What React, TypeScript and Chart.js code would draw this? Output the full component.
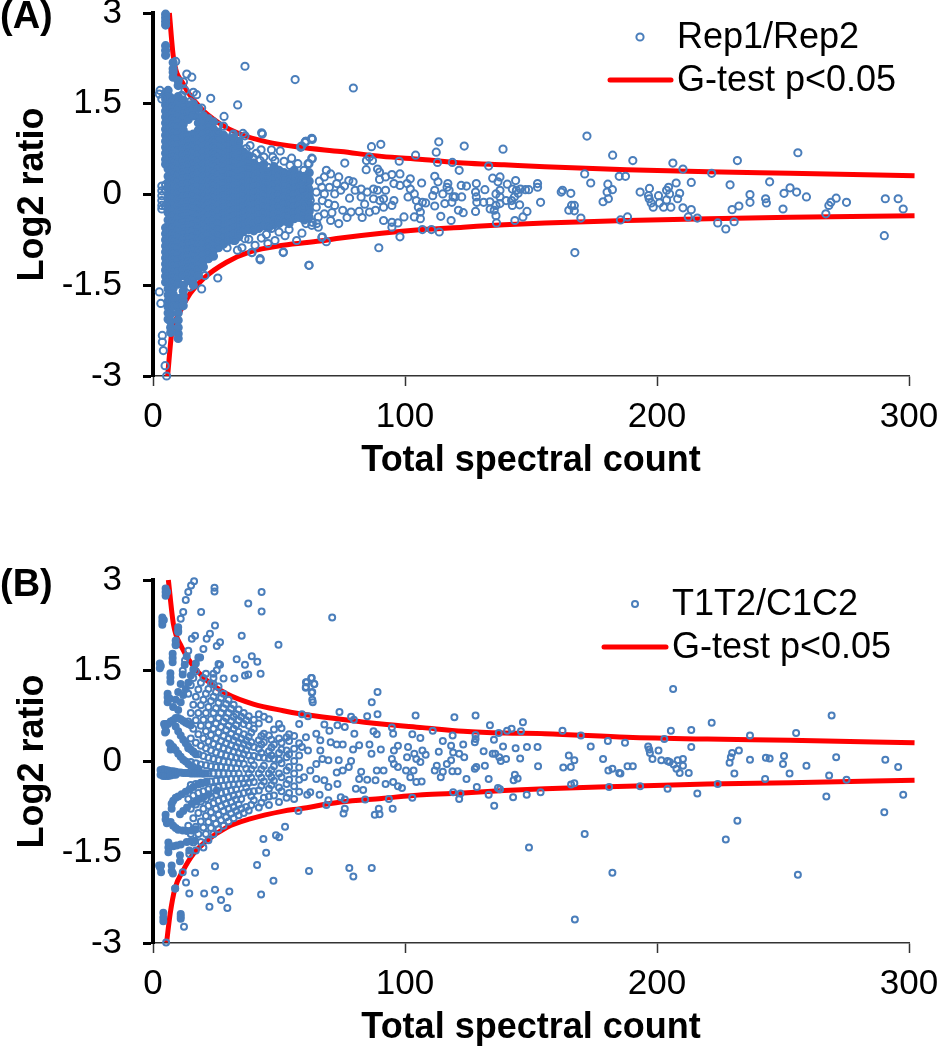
import React, { useEffect, useRef } from "react";
import { Chart, registerables } from "chart.js";

Chart.register(...registerables);

type P = [number, number];
const FONT = '"Liberation Sans", Arial, sans-serif';
const BLUE = "#4a7ebb";
const RED = "#ff0000";

const xTicks = [0, 100, 200, 300];
const yTicks = [-3, -1.5, 0, 1.5, 3];

// ---------- Panel A ----------
const repUpper: P[] = [[6.5,3],[8.1,2.27],[12,1.83],[18.7,1.44],[26.6,1.17],[34.5,1],[45.1,.87],[58.3,.78],[74.5,.71],[90.7,.63],[106.9,.58],[123.1,.52],[139.3,.49],[155.5,.46],[188,.41],[220.4,.375],[252.8,.35],[302.2,.31]];
const repLower: P[] = [[5.8,-3],[7.4,-2.3],[10,-2],[14.7,-1.64],[20,-1.39],[29.2,-1.12],[38.5,-.95],[51.7,-.84],[66.3,-.77],[74.5,-.72],[90.7,-.64],[106.9,-.58],[123.1,-.54],[139.3,-.5],[155.5,-.47],[188,-.43],[220.4,-.4],[252.8,-.375],[302.2,-.35]];

const repOutliers: P[] = [[36.5,2.12],[56.4,1.9],[22.9,1.59],[33.6,1.48],[28.2,1.29],[13.4,1.99],[15.4,1.94],[9,2.2],[12.1,1.86],[43.1,1.02],[36.5,.97],[59,.8],[60.7,.88],[63.1,.92],[26,1.14],[28,1.13],[25.5,1.03],[31.9,1],[19.3,1.43],[16,1.69],[17.3,1.65],[14.7,1.53],[11.4,1.64],[12.7,1.72],[61.9,-1.17],[42.5,-1.08],[51.7,-.95],[39.2,-.96],[25.7,-1.38],[20.6,-1.34],[19.3,-1.56],[14.7,-1.53],[2.5,1.66],[2.8,1.72],[3.5,1.58],[2.5,-1.61],[3.1,-1.8],[3.7,-2.33],[3.7,-2.44],[4.1,-2.58],[4.8,-2.83],[5.4,-3],[3.5,.14],[3.5,.06],[3.5,-.02],[3.5,-.1],[3.5,-.18],[3.5,-.24],[5,.16],[5,.08],[5,-.2],[79.5,1.76],[43.4,1],[42.9,.74],[47,.74],[50.5,.72],[60.3,.86],[63,.93],[58.7,.79],[39.6,.61],[42.5,.56],[48.4,.56],[45.6,.45],[54.4,.48],[57.5,.51],[63,.6],[61.5,.51],[38.5,.81],[35.7,1.01],[31.7,.98],[52.4,-.68],[51.7,-.96],[42.5,-1.06],[39.3,-.96],[47,-.56],[45.6,-.81],[48.4,-.76],[59.1,-.64],[57,-.76],[67,-.71],[63,-.51],[65,-.48],[35.3,-.88],[40.5,-.84],[32.5,-.76],[29.4,-.88],[36.5,-.73],[34,.86],[37,.76],[41,.68],[44,.62],[47.5,.62],[52,.55],[55,.6],[33.5,-.92],[38,-.74],[43,-.72],[45,-.66],[50,-.62],[54,-.58]];

const repTail: P[] = [[63.2,.91],[60.6,.88],[58.6,.78],[86.7,.79],[90.4,.83],[104.2,.65],[97.7,.55],[85.9,.62],[84.7,.56],[87.1,.56],[113.4,.87],[112.4,.7],[112.9,.53],[118.8,.53],[123.5,.8],[121.5,.4],[133.2,.47],[138.9,.75],[76.1,.52],[84.6,.41],[89.1,.42],[89.9,.37],[171.3,.34],[172.2,.965],[173.7,.19],[182.4,.65],[190.4,.56],[185,.3],[187.5,.3],[180.5,.17],[182.3,.08],[180.2,.04],[180.7,-.07],[178.6,-.12],[206.3,.52],[210.3,.42],[221.7,.35],[231.9,.56],[255.9,.69],[213.6,.2],[207.6,.19],[204.6,.12],[244.7,.21],[229,.16],[252.8,.11],[250.4,.02],[255.4,.04],[259.3,-.04],[236.9,0],[236.9,-.13],[232.5,-.19],[229.8,-.25],[243.1,-.07],[243.4,-.14],[250,-.24],[271.1,-.06],[269,-.13],[268.2,-.18],[275.2,-.13],[267,-.32],[290.6,-.07],[295.7,-.07],[297.7,-.24],[290.2,-.68],[230.6,-.45],[227.3,-.57],[224.1,-.47],[216,-.39],[212.4,-.37],[213.6,-.25],[210.3,-.22],[205.5,-.21],[202.6,-.21],[201,-.14],[198.5,-.21],[197.7,-.14],[196.9,-.07],[196.6,-.02],[197,.1],[193.3,.04],[200.6,-.02],[203.8,-.09],[208.2,-.07],[209,.02],[205,.01],[203.8,.07],[188.3,-.37],[185.5,-.42],[169.8,-.39],[167.4,-.96],[167.2,-.18],[165,-.26],[167.2,-.27],[166.1,-.18],[162.5,.07],[165.8,.02],[162,.04],[153.8,-.13],[152.6,.18],[152.6,.12],[149.1,.08],[147.8,.08],[145.8,.09],[144.2,.07],[144.9,.02],[143.9,.23],[140.6,.17],[148.4,-.28],[146.8,-.37],[143.6,-.43],[136.3,-.47],[136.1,-.35],[135.4,-.26],[133.8,-.24],[145.5,-.17],[142.6,-.18],[142.3,-.1],[140.1,-.1],[137.7,-.15],[136.1,-.18],[133.7,-.12],[131.2,-.13],[128.5,-.13],[128,-.28],[128.3,-.04],[128,.04],[128.3,.18],[131.7,.08],[124.4,.14],[122.3,.15],[122.5,-.04],[119.9,-.04],[118.6,-.13],[123.1,-.3],[121.2,-.26],[118.3,-.43],[114.2,-.36],[115.8,-.15],[111.8,-.19],[115,.01],[137.7,.29],[136.9,.21],[134.8,.27],[137.7,.07],[136.1,.01],[137.7,-.04],[142.6,.09],[143.4,-.04],[111.8,.3],[113.1,.21],[111.8,.07],[111,-.02],[117,.18],[117.5,.07],[119.1,-.04],[116.7,.12],[106.6,.19],[102.1,.26],[100.8,.18],[102.1,.09],[103.7,.01],[101.2,-.04],[104.5,-.1],[106.9,-.13],[108.2,-.14],[105.3,-.21],[106.1,-.29],[103.7,-.37],[106.1,-.4],[99.6,-.37],[97.2,-.47],[94.8,-.46],[94.8,-.54],[91.5,-.43],[98,-.7],[106.9,-.58],[110.5,-.58],[113.6,-.62],[89.6,-.88],[68.8,-.78],[67.2,-.7],[61.9,-1.17],[98,.34],[94.8,.33],[92.3,.29],[89.9,.25],[95.6,.18],[98,.15],[92.3,.07],[89.1,.07],[87.5,.09],[85,.04],[82.6,.09],[79.4,.21],[77.7,.23],[80.2,.07],[82.6,-.04],[87.5,-.07],[91.5,-.07],[95.6,-.1],[94.8,-.18],[91.5,-.21],[88.3,-.26],[85.9,-.29],[81.8,-.28],[78.6,-.29],[75.3,-.26],[73.7,-.48],[70.5,-.43],[68,-.32],[65.6,-.37],[63.2,-.46],[65.6,-.54],[60.7,-.48],[68.8,.4],[68,.29],[70.5,.34],[73.7,.29],[72.9,.18],[74.5,.07],[72.1,.01],[68,.01],[64.8,.04],[67.2,-.1],[69.6,-.15],[72.1,-.18],[64.8,-.21],[62.4,-.1],[60.7,-.02],[61.5,.12],[63.2,.59],[61.9,.51],[59.9,.4],[59.1,.23],[59.9,.07],[59.6,-.21],[66,.22],[70,.12],[76,.14],[78,-.06],[84,-.16],[90,-.1],[71,-.3],[77,-.38],[83,-.38],[67,.12]];

const repCoreX = [5, 6, 7, 8, 10, 12, 14, 16, 18, 20, 22, 24, 26, 28, 30, 32, 34, 36, 38, 40, 42, 44, 46, 48, 50, 52, 54, 56, 58, 60, 62];
const repCoreY = [
  [1.68,1.58,1.48,1.38,1.28,1.18,1.08,.98,.88,.78,.68,.58,.5,-.55,-.65,-.75,-.85,-.95,-1.05,-1.15,-1.25,-1.35,-1.45,2.92,2.98,2.86,2.8,2.46,2.38,2.3],
  [1.72,1.62,1.52,1.42,1.32,1.22,1.12,1.02,.92,.82,.72,.62,.52,.42,.3,.2,.1,0,-.1,-.2,-.3,-.42,-.52,-.62,-.74,-.84,-.94,-1.04,-1.14,-1.26,-1.36,-1.46,-1.56,-1.66,-1.76,-1.86,-1.96,-2.06],
  [1.6,1.5,1.4,1.3,1.2,1.1,1,.9,.8,.7,.6,.5,.4,.3,.2,.1,0,-.1,-.2,-.3,-.4,-.5,-.6,-.7,-.8,-.9,-1,-1.1,-1.2,-1.3,-1.4,-1.52,-1.62,-1.74,-1.86,-1.98,-2.1,-2.2,-2.28],
  [2.08,2.18,2.02,1.94,1.55,1.45,1.35,1.25,1.15,1.05,.95,.85,.75,.65,.55,.45,.35,.25,.15,.05,-.05,-.15,-.25,-.35,-.45,-.55,-.65,-.75,-.85,-.95,-1.05,-1.15,-1.25,-1.35,-1.45,-1.55,-1.65,-1.75,-1.85],
  [1.88,1.8,1.62,1.52,1.42,1.32,1.22,1.12,1.02,.92,.82,.72,.62,.52,.42,.32,.22,.12,.02,-.08,-.18,-.28,-.38,-.48,-.58,-.68,-.78,-.88,-.98,-1.08,-1.18,-1.28,-1.38,-1.48,-1.72,-1.84,-1.96,-2.08,-2.2,-2.3,-2.38],
  [1.56,1.46,1.36,1.26,1.16,1.06,.96,.86,.76,.66,.56,.46,.36,.26,.16,.06,-.04,-.14,-.24,-.34,-.44,-.54,-.64,-.74,-.84,-.94,-1.04,-1.14,-1.24,-1.34,-1.5,-1.6,-1.68,-1.76,-1.84],
  [1.48,1.36,1.24,.98,.88,.78,.68,.58,.48,.38,.28,.18,.08,-.02,-.12,-.22,-.32,-.42,-.52,-.62,-.72,-.82,-.92,-1.02,-1.12,-1.22,-1.32,-1.42],
  [1.5,1.4,1.3,1.0,.9,.8,.7,.6,.5,.4,.3,.2,.1,0,-.1,-.2,-.3,-.4,-.5,-.6,-.7,-.8,-.9,-1,-1.1,-1.2,-1.3,-1.4,-1.5],
  [1.42,1.28,1.18,1.06,.96,.86,.76,.66,.56,.46,.36,.26,.16,.06,-.04,-.14,-.24,-.34,-.44,-.54,-.64,-.74,-.84,-.94,-1.04,-1.14,-1.24,-1.34],
  [1.3,1.2,1.1,1,.9,.8,.7,.6,.5,.4,.3,.2,.1,0,-.1,-.2,-.3,-.4,-.5,-.6,-.7,-.8,-.9,-1,-1.1,-1.2],
  [1.25,1.14,1.04,.94,.84,.74,.64,.54,.44,.34,.24,.14,.04,-.06,-.16,-.26,-.36,-.46,-.56,-.66,-.76,-.86,-.96,-1.06],
  [1.2,1.08,.98,.88,.78,.68,.58,.48,.38,.28,.18,.08,-.02,-.12,-.22,-.32,-.42,-.52,-.62,-.72,-.82,-.92,-1.02],
  [1.02,.92,.82,.72,.62,.52,.42,.32,.22,.12,.02,-.08,-.18,-.28,-.38,-.48,-.58,-.68,-.78,-.88],
  [.98,.88,.78,.68,.58,.48,.38,.28,.18,.08,-.02,-.12,-.22,-.32,-.42,-.52,-.62,-.72,-.82],
  [.92,.82,.72,.62,.52,.42,.32,.22,.12,.02,-.08,-.18,-.28,-.38,-.48,-.58,-.68,-.76],
  [.94,.84,.74,.64,.54,.44,.34,.24,.14,.04,-.06,-.16,-.26,-.36,-.46,-.56,-.66,-.76],
  [.88,.78,.68,.58,.48,.38,.28,.18,.08,-.02,-.12,-.22,-.32,-.42,-.52,-.62,-.7],
  [.7,.6,.5,.4,.3,.2,.1,0,-.1,-.2,-.3,-.4,-.5,-.6],
  [.64,.54,.44,.34,.24,.14,.04,-.06,-.16,-.26,-.36,-.46,-.58],
  [.52,.42,.32,.22,.12,.02,-.08,-.18,-.28,-.38,-.48,-.6],
  [.46,.36,.26,.16,.06,-.04,-.14,-.24,-.34,-.44,-.56],
  [.5,.4,.3,.2,.1,0,-.1,-.2,-.3,-.4,-.52],
  [.38,.28,.18,.08,-.02,-.12,-.22,-.32,-.42,-.54],
  [.46,.36,.26,.16,.06,-.04,-.14,-.24,-.34,-.44,-.5],
  [.4,.3,.2,.1,0,-.1,-.2,-.3,-.4,-.48],
  [.36,.26,.16,.06,-.04,-.14,-.24,-.34,-.44],
  [.34,.24,.14,.04,-.06,-.16,-.26,-.36,-.48],
  [.4,.3,.2,.1,0,-.1,-.2,-.3,-.4],
  [.32,.22,.12,.02,-.08,-.18,-.28,-.38],
  [.3,.16,.06,-.04,-.14,-.24,-.34,-.42],
  [.36,.22,.08,-.04,-.16,-.28,-.38],
];

// ---------- Panel B ----------
const treatUpper: P[] = [[6.1,3],[8.1,2.27],[11.4,1.89],[15.4,1.61],[21.3,1.34],[29.2,1.12],[39.8,.95],[51.7,.84],[58.3,.79],[74.5,.7],[90.7,.62],[106.9,.56],[123.1,.5],[139.3,.47],[155.5,.46],[188,.4],[220,.37],[252.8,.35],[302.2,.31]];
const treatLower: P[] = [[5.4,-2.99],[6.8,-2.52],[8.7,-2.1],[12,-1.8],[16,-1.53],[21.3,-1.31],[29.2,-1.09],[38.5,-.95],[51.7,-.82],[58.3,-.78],[74.5,-.67],[90.7,-.61],[106.9,-.55],[123.1,-.52],[139.3,-.48],[155.5,-.45],[188,-.41],[220,-.37],[252.8,-.35],[302.2,-.31]];

const treatOutliers: P[] = [[43.1,2.8],[43.1,2.48],[37.8,2.61],[24.4,2.87],[24.4,2.81],[19.1,2.47],[24.6,2.25],[35.2,2.08],[49.8,1.93],[33.2,1.69],[36.5,1.6],[39.2,1.74],[41.4,1.65],[36.5,1.42],[37.8,1.44],[42.7,1.45],[63,1.38],[61,1.31],[64,1.28],[60.7,1.23],[63,1.14],[63.4,.98],[26,1.61],[26.6,1.6],[25.3,1.51],[24,1.45],[32.3,1.37],[28,1.37],[24,1.28],[26.6,1.97],[25.3,1.91],[22.6,2.11],[21.3,2.03],[20,1.86],[18.7,1.72],[16.7,2.08],[15.4,2.03],[14,1.83],[12.7,1.67],[11.8,1.5],[16.3,2.98],[15.1,2.91],[14,2.8],[13,2.67],[12,2.47],[11,2.36],[10,2.16],[9,1.94],[24.6,-1.73],[16.7,-1.84],[13.1,-2],[14.4,-2.18],[20.3,-2.18],[24.6,-2.12],[30.3,-2.15],[27,-2.29],[22.4,-2.4],[29.5,-2.42],[42.9,-2.2],[47.8,-1.97],[41.3,-1.71],[61.9,-1.81],[44.9,-1.51],[43.8,-1.28],[48.8,-1.22],[50.1,-1.25],[52.4,-1.08],[57.7,-.82],[11,-2.56],[12.3,-2.73],[5.2,-2.99],[8.8,-2.1],[11.8,-1.83],[14.4,-1.53],[71.1,2.38],[62.8,1.38],[60.7,1.31],[64,1.28],[60.6,1.22],[63.2,1.15],[63.2,1.02],[89.1,1.15],[86.8,.98],[74,.82],[78.6,.74],[79.7,.69],[85,.75],[89.1,.78],[104.2,.76],[119.6,.73],[128,.76],[133.7,.6],[146.8,.65],[142.3,.54],[140.5,.51],[146,.5],[137.2,.47],[77.9,-1.76],[79.5,-1.9],[86.8,-1.76],[231.9,-.98],[227.3,-1.29],[255.9,-1.87],[182.3,-1.84],[171.3,-1.2],[167.4,-2.61],[149.2,-1.42],[206.4,1.2],[269.3,.76]];

const treatTail: P[] = [[128,.44],[128,.37],[127.7,.32],[118.9,.43],[111,.51],[115,.34],[102.9,.45],[106.1,.39],[94.8,.56],[95.3,.46],[87.5,.5],[88.8,.45],[79.9,.46],[76.1,.57],[73.2,.6],[70,.51],[68,.61],[61.5,.75],[59.1,.78],[162.5,.51],[169.8,.43],[173.7,.25],[180.5,.34],[187.3,.31],[202.9,.37],[205.5,.51],[213.6,.52],[221.7,.64],[236.9,.43],[255.2,.47],[213.6,.24],[196.5,.25],[196.9,.2],[197.2,.14],[200.6,.18],[198.2,.04],[201.7,.02],[204.2,.01],[205,-.01],[208.2,.02],[210.3,.04],[206.6,-.05],[210.3,-.07],[207.7,-.12],[209,-.19],[212.6,-.19],[232.5,.18],[229.8,.14],[229.3,.07],[228.8,-.02],[230.7,-.2],[236.9,.03],[243.2,.06],[244.7,.05],[250.4,.09],[250,-.04],[252.6,-.2],[259.3,-.07],[271.1,.07],[268.3,-.23],[275.2,-.3],[290.6,.03],[295.7,-.09],[297.7,-.55],[290.2,-.84],[267.2,-.58],[242.9,-.29],[224.1,-.37],[216,-.53],[204.2,-.45],[193.3,-.41],[181,-.42],[165.9,-.38],[167.2,-.36],[178.6,.04],[180.7,-.15],[182.3,-.12],[185,-.19],[185.5,-.2],[188.3,-.08],[190.4,-.08],[165,.1],[167.2,.02],[162.8,-.1],[165.8,-.09],[152.8,-.08],[152.6,.24],[148.4,.24],[143.9,.22],[138.9,.25],[145.7,.05],[140.1,.04],[138,.01],[137.4,.07],[135.8,.13],[134.8,.13],[131.2,.17],[135.3,.36],[143.6,-.22],[144.7,-.28],[143.1,-.31],[153.8,-.51],[148.3,-.55],[142.9,-.59],[136.9,-.44],[137.7,-.46],[135.4,-.73],[133.2,-.55],[133.2,-.29],[128.5,-.42],[124.4,-.29],[131.7,-.07],[128.3,-.09],[127.7,-.12],[120.9,-.16],[118.8,-.16],[119.1,-.51],[122,-.53],[121.5,-.62],[114.2,-.26],[115,-.17],[111.8,-.15],[112.6,-.07],[116.6,-.04],[118.3,.02],[119.1,.15],[118.3,.26],[123.1,.28],[123.5,.07],[121.5,.13],[113.4,.16],[108.2,.11],[106.9,.18],[106.1,-.01],[104.5,.04],[103.7,.13],[100.8,.07],[101.2,.24],[97.2,.26],[95.6,.18],[94.8,.04],[95.6,-.04],[97.2,-.09],[100.4,-.15],[103.4,-.15],[102.1,-.26],[104.5,-.34],[106.6,-.33],[98.8,-.44],[97.2,-.41],[95.3,-.34],[92.3,-.37],[91.5,-.15],[88.8,-.15],[88.3,-.31],[85,-.3],[82.6,-.17],[81.8,-.29],[80.5,-.45],[83.4,-.47],[84.2,-.63],[76.1,-.63],[74.5,-.59],[68.8,-.72],[69.6,-.64],[76.1,-.78],[75.6,-.86],[89.6,-.78],[89.9,-.87],[88,-.88],[95.1,-.78],[93.6,-.62],[102.9,-.6],[90.4,.2],[85.9,.28],[86.7,.13],[81.8,.27],[79.4,.2],[75.3,.28],[72.9,.28],[73.7,.02],[78.6,.01],[77.7,-.09],[75.3,-.15],[72.9,-.18],[69.6,.02],[67.2,.04],[64.8,-.04],[62.4,-.15],[59.9,-.26],[64.8,-.29],[68,-.31],[69.6,-.42],[62.4,-.51],[66.1,-.55],[61.2,-.55],[73.2,-.37],[66.4,.35],[70.5,.32],[60.7,.4],[59.1,.24],[66.4,.18],[61.5,.18],[64.8,.46]];

const treatMeshX = [14,15,16,17,18,19,20,21,22,23,24,25,26,27,28,29,30,31,32,33,34,35,36,37,38,39,40,42,43,44,46,47,48,50,51,53,54,56,58];
const treatMeshY = [
  [.22,.66,1.12,-.62,-1.06],
  [-.01,.38,.8,1.26,-.39,-.78,-1.2],
  [.16,.54,.94,1.38,-.56,-.94,-1.34],
  [-.03,.31,.68,1.07,1.49,-.37,-.71,-1.08,-1.47],
  [.12,.45,.8,1.19,-.52,-.85,-1.2],
  [-.05,.26,.59,.93,1.3,-.35,-.66,-.99,-1.33],
  [-.2,.09,.38,.69,1.02,1.38,-.49,-.78,-1.09,-1.42],
  [-.06,.22,.5,.8,1.12,1.45,-.34,-.62,-.9,-1.2],
  [-.2,.06,.33,.6,.9,1.2,-.46,-.73,-1,-1.3],
  [-.08,.18,.44,.7,1,1.29,-.33,-.58,-.84,-1.1],
  [-.2,.04,.29,.54,.8,1.07,1.38,-.44,-.69,-.94,-1.2],
  [-.09,.15,.38,.63,.88,1.15,-.32,-.55,-.78,-1.03],
  [-.2,.02,.25,.48,.72,.97,1.24,-.42,-.65,-.88,-1.12],
  [-.09,.12,.34,.57,.8,1.05,-.31,-.52,-.74,-.97],
  [-.2,0,.22,.42,.66,.88,1.12,-.4,-.62,-.82,-1.06],
  [-.1,.1,.3,.52,.72,.95,-.3,-.5,-.7,-.92],
  [-.2,-.01,.19,.38,.59,.8,1.02,-.39,-.59,-.78,-.99],
  [-.11,.08,.27,.46,.67,.87,-.29,-.48,-.67,-.86],
  [-.2,-.02,.16,.35,.54,.74,.94,-.38,-.56,-.75,-.94],
  [-.11,.06,.24,.41,.6,.78,-.29,-.46,-.63,-.82],
  [-.2,-.03,.14,.31,.49,.68,.86,-.37,-.54,-.71,-.89],
  [.05,.22,.38,.74,-.28,-.62,-.78],
  [-.04,.12,.29,.45,.62,.8,-.36,-.52,-.85],
  [-.12,.19,.35,.68,-.28,-.43,-.75],
  [-.2,.1,.26,.41,.59,.75,-.35,-.5,-.81],
  [-.13,.02,.32,.48,-.27,-.57,-.72],
  [-.06,.09,.24,.54,.69,-.34,-.49,-.64],
  [-.2,.07,.21,.35,.63,.78,-.48,-.76],
  [-.13,.14,.28,.42,-.27,-.4,-.68],
  [-.07,.06,.32,.46,.74,-.33,-.6],
  [-.2,.05,.17,.43,.7,-.45,-.58,-.72],
  [-.14,.1,.23,.36,-.26,-.39],
  [-.08,.04,.28,.53,-.32,-.56],
  [-.2,.03,.14,.38,.62,-.43,-.67],
  [-.03,.2,.31,.55,-.26,-.49],
  [-.15,.07,.18,.4,-.37,-.6],
  [-.09,.12,.34,.45,-.3,-.52],
  [-.2,.01,.21,.42,-.41,-.62],
  [-.1,.1,.3,.62,-.3,-.5],
];

const treatArcs: P[] = [
  [2.7,1.62],[2.7,1.54],[3.1,1.58],[3.7,2.38],[3.7,2.32],[3.7,2.26],[4.3,2.34],[5,2.86],[5,2.8],[5,2.74],[5.6,2.8],
  [5.8,1.12],[5.8,1.06],[5.8,.98],[6.6,1.04],[6.9,1.46],[6.9,1.39],[6.9,1.32],[7.8,1.78],[7.8,1.71],[7.8,1.64],[9,2],[9,1.92],[10,2.22],[10,2.14],
  [8,.9],[9,1.02],[10,1.15],[11,1.28],[11.8,1.44],[12.6,1.6],[13.4,1.74],[10,.85],[11,.98],[12,1.1],[13,1.2],[14,1.3],[15,1.42],[16,1.52],[17,1.62],[18,1.72],
  [4.4,.62],[4.8,.58],[4.8,.48],[5.2,.62],[5.2,.5],[6,.62],[7,.66],[8,.68],[9,.72],[10,.72],[11,.7],[12,.67],[13,.64],[14,.62],[15,.6],
  [6.5,.3],[7,.28],[7,.2],[8,.24],[9,.19],[10,.13],[11,.08],[12,.03],[13,0],[14,-.04],[15,-.07],[16,-.09],[18,-.12],
  [9,.58],[10,.5],[11,.43],[12,.36],[13,.3],[14,.25],[15,.2],[16,.16],[17,.12],
  [3,-.14],[3,-.22],[4,-.13],[4,-.24],[5,-.14],[5,-.24],[6,-.15],[6,-.24],[7,-.16],[7,-.23],[8,-.16],[8,-.22],[9,-.17],[9,-.22],[10,-.18],[11,-.18],[12,-.19],[13,-.19],[14,-.19],[15,-.2],[16,-.2],[17,-.2],[18,-.2],[19,-.2],[20,-.2],[21,-.2],
  [7.4,-.7],[7.4,-.78],[8,-.65],[9,-.6],[10,-.58],[11.4,-.54],[13,-.5],[14.5,-.46],[16,-.42],[18,-.38],[19.5,-.36],[21.3,-.34],
  [5,-.88],[5,-.96],[5.5,-1.02],[7,-1],[8,-1.06],[9,-1.1],[10,-1.13],[11.8,-1.14],[13.5,-1.15],[15.4,-1.14],[17,-1.12],
  [10.7,-.87],[12,-.82],[13.5,-.76],[15.4,-.7],[17,-.66],[18.5,-.62],[20,-.59],[22,-.54],[25.3,-.48],
  [6.1,-1.34],[6.1,-1.42],[6.1,-1.5],[8,-1.4],[9.4,-1.39],[11,-1.37],[13.4,-1.33],[15,-1.32],[16.7,-1.31],
  [7.4,-1.72],[7.4,-1.81],[7.9,-1.85],[10.7,-1.55],[10.7,-1.65],[14.4,-1.47],[8.8,-2.1],[2.8,-1.75],[3.2,-1.83],[2.4,-1.72],[3.2,-1.72],[4.1,-2.5],[4.1,-2.58],[4.1,-2.64],[11,-2.52],[11,-2.6],
];

function columns(xs: number[], ys: number[][]): P[] {
  return xs.flatMap((x, i) => ys[i].map((y) => [x, y] as P));
}
const toXY = (pts: P[]) => pts.map(([x, y]) => ({ x, y }));

interface PanelProps {
  height: number;
  top: number;
  tag: string;
  tagY: number;
  name: string;
  solid: P[];
  rings: P[];
  upper: P[];
  lower: P[];
  radius: number;
  ringWidth: number;
  legend: { markX: number; markY: number; lineL: number; lineR: number; lineY: number; textX: number; textY: number };
  areaTop: number;
  areaBottom: number;
}

function Panel(p: PanelProps) {
  const ref = useRef<HTMLCanvasElement>(null);
  useEffect(() => {
    if (!ref.current) return;
    const annotate = {
      id: "annotate",
      afterDraw(chart: any) {
        const { ctx } = chart;
        ctx.save();
        ctx.fillStyle = "#000";
        ctx.textBaseline = "middle";
        ctx.textAlign = "left";
        ctx.font = `bold 38px ${FONT}`;
        ctx.fillText(p.tag, 0, p.tagY);
        ctx.font = `36px ${FONT}`;
        const l = p.legend;
        ctx.fillText(chart.data.datasets[0].label, l.textX, l.textY);
        ctx.fillText(chart.data.datasets[2].label, l.textX, l.lineY + 1);
        ctx.beginPath();
        ctx.arc(l.markX, l.markY, p.radius, 0, Math.PI * 2);
        ctx.strokeStyle = BLUE;
        ctx.lineWidth = p.ringWidth;
        ctx.stroke();
        ctx.beginPath();
        ctx.moveTo(l.lineL, l.lineY);
        ctx.lineTo(l.lineR, l.lineY);
        ctx.strokeStyle = RED;
        ctx.lineWidth = 5;
        ctx.lineCap = "round";
        ctx.stroke();
        ctx.restore();
      },
    };
    const curve = (label: string, pts: P[]) => ({
      type: "line" as const,
      label,
      data: toXY(pts),
      borderColor: RED,
      borderWidth: 5,
      pointRadius: 0,
      cubicInterpolationMode: "monotone" as const,
      order: 2,
      clip: false as const,
    });
    const dots = (label: string, pts: P[], fill: string) => ({
      type: "scatter" as const,
      label,
      data: toXY(pts),
      pointBorderColor: BLUE,
      pointBackgroundColor: fill,
      pointBorderWidth: p.ringWidth,
      pointRadius: p.radius,
      order: 1,
      clip: false as const,
    });
    const chart = new Chart(ref.current, {
      data: {
        datasets: [
          dots(p.name, p.rings, "rgba(0,0,0,0)"),
          dots(p.name + " (dense)", p.solid, BLUE),
          curve("G-test p<0.05", p.upper),
          curve("G-test p<0.05 (lower)", p.lower),
        ],
      } as any,
      plugins: [annotate],
      options: {
        responsive: false,
        animation: false,
        devicePixelRatio: 1,
        layout: { padding: { top: p.areaTop, right: 31, left: 0, bottom: p.height - p.areaBottom - 107 } },
        plugins: { legend: { display: false }, tooltip: { enabled: false } },
        scales: {
          x: {
            type: "linear",
            min: xTicks[0],
            max: xTicks[3],
            afterBuildTicks: (s: any) => { s.ticks = xTicks.map((value) => ({ value })); },
            afterFit: (s: any) => { s.height = 107; s.paddingLeft = 0; s.paddingRight = 0; },
            grid: { drawOnChartArea: false, drawTicks: true, tickLength: 10, tickWidth: 1.5, tickColor: "#333" },
            border: { color: "#333", width: 1.5 },
            ticks: { font: { family: FONT, size: 35 }, color: "#000", padding: 10, maxRotation: 0, autoSkip: false },
            title: { display: true, text: "Total spectral count", color: "#000", font: { family: FONT, size: 36, weight: "bold" }, padding: 0 },
          },
          y: {
            type: "linear",
            min: yTicks[0],
            max: yTicks[4],
            afterBuildTicks: (s: any) => { s.ticks = yTicks.map((value) => ({ value })); },
            afterFit: (s: any) => { s.width = 153; s.paddingTop = 0; s.paddingBottom = 0; },
            grid: { drawOnChartArea: false, drawTicks: true, tickLength: 10, tickWidth: 3, tickColor: "#000" },
            border: { color: "#000", width: 4 },
            ticks: { font: { family: FONT, size: 35 }, color: "#000", padding: 21, callback: (v: any) => String(v), autoSkip: false },
            title: { display: true, text: "Log2 ratio", color: "#000", font: { family: FONT, size: 36, weight: "bold" }, padding: { top: 11, bottom: 0 } },
          },
        },
      } as any,
    });
    return () => chart.destroy();
  }, []);
  return (
    <canvas
      ref={ref}
      width={940}
      height={p.height}
      style={{ position: "absolute", left: 0, top: p.top, width: 940, height: p.height, display: "block" }}
    />
  );
}

export default function App() {
  return (
    <div style={{ position: "absolute", left: 0, top: 0, width: 940, height: 1050, background: "#fff", overflow: "hidden" }}>
      <Panel
        height={490}
        top={0}
        tag="(A)"
        tagY={18}
        name="Rep1/Rep2"
        solid={columns(repCoreX, repCoreY)}
        rings={[...repOutliers, ...repTail]}
        upper={repUpper}
        lower={repLower}
        radius={3.6}
        ringWidth={2}
        areaTop={13}
        areaBottom={376}
        legend={{ markX: 640, markY: 37, lineL: 610, lineR: 671, lineY: 80, textX: 677, textY: 38 }}
      />
      <Panel
        height={490}
        top={560}
        tag="(B)"
        tagY={26}
        name="T1T2/C1C2"
        solid={treatArcs}
        rings={[...treatOutliers, ...treatTail, ...columns(treatMeshX, treatMeshY)]}
        upper={treatUpper}
        lower={treatLower}
        radius={3}
        ringWidth={2}
        areaTop={20}
        areaBottom={383}
        legend={{ markX: 635, markY: 44, lineL: 604, lineR: 666, lineY: 87, textX: 672, textY: 45 }}
      />
    </div>
  );
}
